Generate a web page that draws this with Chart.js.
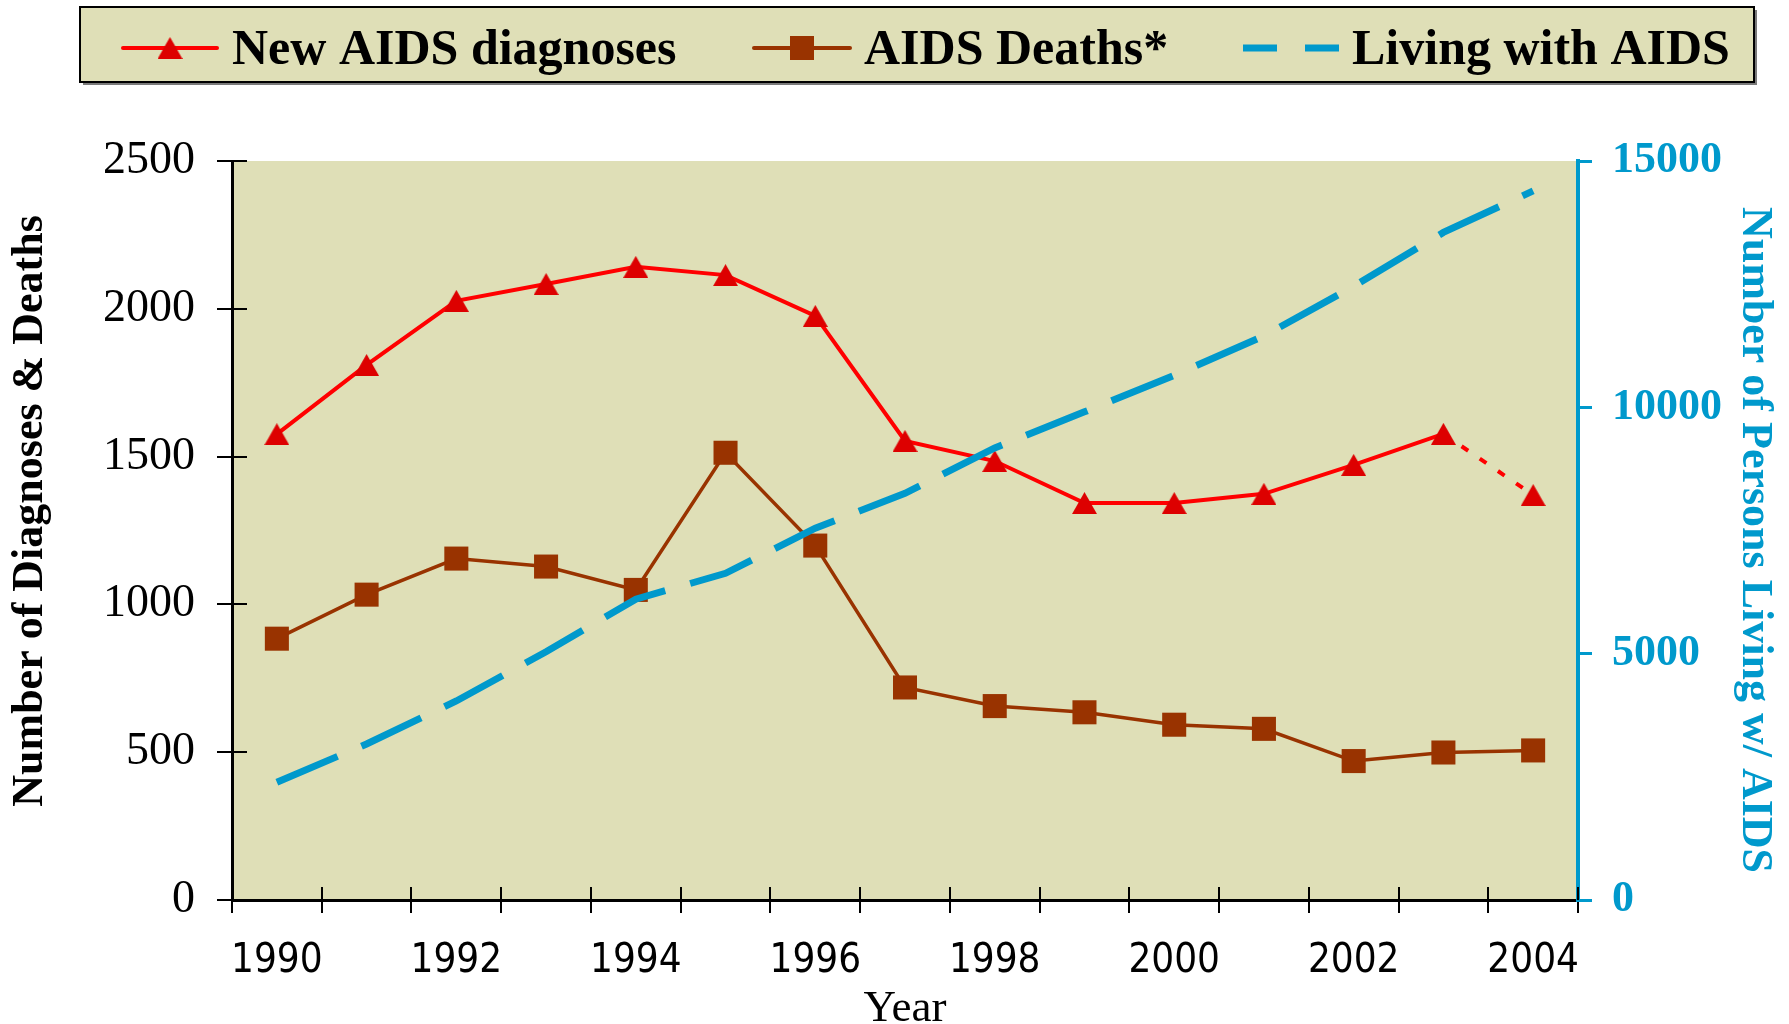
<!DOCTYPE html>
<html>
<head>
<meta charset="utf-8">
<script src="https://cdn.jsdelivr.net/npm/chart.js@4.4.1/dist/chart.umd.min.js"></script>
<style>
  html, body { margin: 0; padding: 0; background: #fff; }
  canvas { display: block; }
</style>
</head>
<body>
<canvas id="chart" width="1789" height="1024"></canvas>
<script>
// data
const years = ['1990','1991','1992','1993','1994','1995','1996','1997','1998','1999','2000','2001','2002','2003','2004'];
const newDiagnoses = [1576, 1810, 2027, 2084, 2142, 2114, 1976, 1553, 1485, 1343, 1343, 1374, 1472, 1577, 1370];
const aidsDeaths = [884, 1033, 1155, 1128, 1049, 1513, 1199, 719, 656, 635, 593, 579, 470, 499, 506];
const livingWithAids = [2389, 3167, 4040, 5040, 6105, 6632, 7546, 8256, 9177, 9908, 10650, 11449, 12458, 13550, 14393];
const leftTicks = [0, 500, 1000, 1500, 2000, 2500];
const rightTicks = [0, 5000, 10000, 15000];

const PLOT_BG = '#DFDFB7';
const RED = '#FF0000', RED_MARK = '#DD0000';
const BROWN = '#993300';
const BLUE = '#0099CC';
const SERIF = "'Liberation Serif', 'Times New Roman', serif";
const NARROW = "'Liberation Sans Narrow', 'DejaVu Sans Condensed', 'Arial Narrow', sans-serif";

function triangleMarker(color, w, h) {
  const c = document.createElement('canvas');
  c.width = w; c.height = h;
  const g = c.getContext('2d');
  g.fillStyle = color;
  g.beginPath();
  g.moveTo(w / 2, 0); g.lineTo(w, h); g.lineTo(0, h);
  g.closePath(); g.fill();
  return c;
}
const tri = triangleMarker(RED_MARK, 25, 22);
const lastIdx = years.length - 1;

const decor = {
  id: 'decor',
  beforeDraw(chart) {
    const { ctx, chartArea: a } = chart;
    ctx.save();
    ctx.fillStyle = PLOT_BG;
    ctx.fillRect(a.left, a.top, a.right - a.left, a.bottom - a.top);
    ctx.restore();
  },
  afterDraw(chart) {
    const { ctx, chartArea: a } = chart;
    const x = chart.scales.x, y = chart.scales.y;
    ctx.save();
    // inner halves of the ticks
    ctx.strokeStyle = '#000'; ctx.lineWidth = 2;
    ctx.beginPath();
    for (let i = 0; i <= years.length; i++) {
      const px = Math.round(x.getPixelForValue(i - 0.5));
      ctx.moveTo(px, a.bottom); ctx.lineTo(px, a.bottom - 13);
    }
    leftTicks.forEach(v => {
      const py = Math.round(y.getPixelForValue(v));
      ctx.moveTo(a.left, py); ctx.lineTo(a.left + 15, py);
    });
    ctx.stroke();

    // axis titles
    ctx.font = 'bold 44px ' + SERIF;
    ctx.textAlign = 'center'; ctx.textBaseline = 'alphabetic';
    ctx.fillStyle = '#000';
    ctx.save(); ctx.translate(42, 511); ctx.rotate(-Math.PI / 2);
    ctx.fillText('Number of Diagnoses & Deaths', 0, 0); ctx.restore();
    ctx.fillStyle = BLUE;
    ctx.save(); ctx.translate(1743, 540); ctx.rotate(Math.PI / 2);
    ctx.fillText('Number of Persons Living w/ AIDS', 0, 0); ctx.restore();
    ctx.fillStyle = '#000';
    ctx.font = '45px ' + SERIF;
    ctx.fillText('Year', 905, 1021);

    // legend box
    ctx.fillStyle = '#7a7a7a';
    ctx.fillRect(83, 10, 1674, 75);
    ctx.fillStyle = PLOT_BG;
    ctx.fillRect(80, 7, 1674, 75);
    ctx.strokeStyle = '#000'; ctx.lineWidth = 2;
    ctx.strokeRect(80, 7, 1674, 75);

    const ly = 48;
    ctx.lineCap = 'round';
    ctx.lineWidth = 4; ctx.strokeStyle = RED;
    ctx.beginPath(); ctx.moveTo(123, ly); ctx.lineTo(217, ly); ctx.stroke();
    ctx.drawImage(tri, 170 - 12.5, ly - 11);
    ctx.strokeStyle = BROWN;
    ctx.beginPath(); ctx.moveTo(754, ly); ctx.lineTo(850, ly); ctx.stroke();
    ctx.fillStyle = BROWN; ctx.fillRect(802 - 12, ly - 12, 24, 24);
    ctx.lineCap = 'butt';
    ctx.lineWidth = 7; ctx.strokeStyle = BLUE;
    ctx.setLineDash([34, 28]);
    ctx.beginPath(); ctx.moveTo(1243, ly); ctx.lineTo(1340, ly); ctx.stroke();
    ctx.setLineDash([]);

    ctx.fillStyle = '#000';
    ctx.font = 'bold 50px ' + SERIF;
    ctx.textAlign = 'left';
    ctx.fillText('New AIDS diagnoses', 232, 64);
    ctx.fillText('AIDS Deaths*', 864, 64);
    ctx.fillText('Living with AIDS', 1352, 64);
    ctx.restore();
  }
};

new Chart(document.getElementById('chart'), {
  type: 'line',
  data: {
    labels: years,
    datasets: [
      {
        label: 'Living with AIDS',
        data: livingWithAids,
        yAxisID: 'y2',
        borderColor: BLUE,
        borderWidth: 7,
        borderDash: [66, 26],
        borderCapStyle: 'butt',
        pointRadius: 0,
        tension: 0,
        order: 0
      },
      {
        label: 'New AIDS diagnoses',
        data: newDiagnoses,
        yAxisID: 'y',
        borderColor: RED,
        borderWidth: 4,
        pointStyle: tri,
        pointRadius: 12,
        tension: 0,
        segment: {
          borderDash: ctx => ctx.p1DataIndex === lastIdx ? [8, 14] : undefined
        },
        order: 1
      },
      {
        label: 'AIDS Deaths*',
        data: aidsDeaths,
        yAxisID: 'y',
        borderColor: BROWN,
        borderWidth: 3.5,
        pointStyle: 'rect',
        pointRadius: 17,
        pointBackgroundColor: BROWN,
        pointBorderColor: BROWN,
        pointBorderWidth: 0,
        tension: 0,
        order: 2
      }
    ]
  },
  options: {
    responsive: false,
    animation: false,
    events: [],
    layout: { padding: { top: 161, left: 0, right: 0, bottom: 0 } },
    plugins: { legend: { display: false }, tooltip: { enabled: false } },
    scales: {
      x: {
        type: 'category',
        offset: true,
        grid: { offset: true, drawOnChartArea: false, color: '#000', lineWidth: 2, tickLength: 13 },
        border: { color: '#000', width: 3 },
        ticks: {
          autoSkip: false, maxRotation: 0, padding: 25, color: '#000',
          font: { family: NARROW, size: 40 },
          callback: (v, i) => i % 2 === 0 ? years[i] : ''
        },
        afterFit: s => { s.height = 124; }
      },
      y: {
        position: 'left',
        min: leftTicks[0], max: leftTicks[leftTicks.length - 1],
        grid: { drawOnChartArea: false, color: '#000', lineWidth: 2, tickLength: 15 },
        border: { color: '#000', width: 3 },
        ticks: { stepSize: 500, padding: 22, color: '#000', font: { family: SERIF, size: 46 }, callback: v => String(v) },
        afterFit: s => { s.width = 232; }
      },
      y2: {
        position: 'right',
        min: rightTicks[0], max: rightTicks[rightTicks.length - 1],
        grid: { drawOnChartArea: false, color: BLUE, lineWidth: 3, tickLength: 14 },
        border: { color: BLUE, width: 4 },
        ticks: { stepSize: 5000, padding: 20, color: BLUE, font: { family: SERIF, size: 44, weight: 'bold' }, callback: v => String(v) },
        afterFit: s => { s.width = 211; }
      }
    }
  },
  plugins: [decor]
});
</script>
</body>
</html>
